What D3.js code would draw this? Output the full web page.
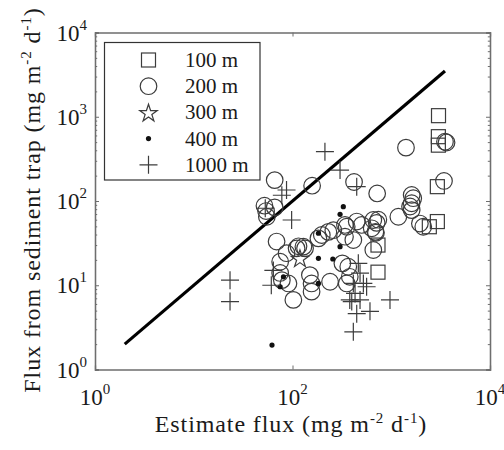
<!DOCTYPE html>
<html>
<head>
<meta charset="utf-8">
<script src="https://cdn.jsdelivr.net/npm/d3@7"></script>
<style>
  body { margin: 0; background: #fff; }
  svg { display: block; }
  text { font-family: "Liberation Serif", "Times New Roman", serif; fill: #1a1a1a; }
</style>
</head>
<body>
<svg id="chart" width="504" height="450"></svg>
<script>
// Estimated flux vs. sediment-trap flux (mg m^-2 d^-1), one array per trap depth: [estimate, trap]
const depth100 = [
  [3010, 1030], [3000, 580], [3000, 460], [2930, 148], [2930, 57], [2430, 49.5],
  [734, 30], [734, 14.3]
];
const depth200 = [
  [1410, 430], [3500, 505], [3630, 495], [3420, 173], [66, 177], [158, 152], [420, 168], [720, 123],
  [52, 88], [54, 76], [55, 65], [66, 84],
  [1610, 118], [1670, 108], [1610, 94], [1550, 86], [1610, 78],
  [1180, 65], [1950, 54], [2110, 49.5],
  [658, 59.5], [712, 55], [634, 47.4], [690, 43], [740, 60], [700, 42], [502, 52], [447, 57],
  [354, 49.5], [340, 52], [340, 37.7], [259, 45], [231, 43], [198, 39.5], [183, 36], [129, 28.7],
  [110, 27.4], [658, 26.2], [413, 34.4],
  [87, 24], [75, 19], [69, 33], [115, 29], [134, 27.4],
  [320, 18.2], [367, 16.6], [380, 12.6], [354, 10.5], [240, 11], [150, 13.2], [156, 10.5], [156, 8.4],
  [75, 14], [78, 11.5], [91, 10.5], [102, 6.7]
];
const depth300 = [[119, 21]];
const depth400 = [
  [327, 85.6], [303, 69.5], [183, 41.4], [303, 28.7], [183, 20.9], [256, 20.5],
  [81, 12.6], [75, 9.6], [183, 10.5], [62, 1.95]
];
const depth1000 = [
  [213, 385], [303, 233], [447, 148], [87, 135], [78, 117], [53, 82], [98, 59.5],
  [23.3, 11.5], [23.3, 6.4], [64, 15], [61, 10],
  [464, 18.2], [483, 13.9], [522, 10.5], [563, 9.6], [430, 8.0], [380, 6.7], [483, 6.7],
  [609, 4.9], [447, 4.6], [413, 2.8], [971, 6.7], [413, 10.5], [398, 6.4]
];
// 1:1 reference line
const oneToOne = [[2, 2], [3500, 3500]];

const legendLabels = ["100 m", "200 m", "300 m", "400 m", "1000 m"];
const xTickValues = [1, 100, 10000];
const xTickExponents = ["0", "2", "4"];
const yTickValues = [1, 10, 100, 1000, 10000];
const yTickExponents = ["0", "1", "2", "3", "4"];

const svg = d3.select("#chart");
const x = d3.scaleLog().domain([1, 1e4]).range([95, 490]);
const y = d3.scaleLog().domain([1, 1e4]).range([369.5, 32.5]);

const ink = "#3c3c3c";
const frame = "#6e6e6e";

// minor ticks for the y axis: 2..9 in each decade
const yMinor = [];
for (let e = 0; e < 4; e++) for (let k = 2; k <= 9; k++) yMinor.push(k * Math.pow(10, e));

const axes = svg.append("g").attr("class", "axes");
// inward major ticks on all four sides
axes.append("g").attr("transform", `translate(0,${y(1)})`)
  .call(d3.axisBottom(x).tickValues(xTickValues).tickSize(-4).tickFormat(""));
axes.append("g").attr("transform", `translate(0,${y(1e4)})`)
  .call(d3.axisTop(x).tickValues(xTickValues).tickSize(-4).tickFormat(""));
axes.append("g").attr("transform", `translate(${x(1)},0)`)
  .call(d3.axisLeft(y).tickValues(yTickValues).tickSize(-4).tickFormat(""));
axes.append("g").attr("transform", `translate(${x(1e4)},0)`)
  .call(d3.axisRight(y).tickValues(yTickValues).tickSize(-4).tickFormat(""));
axes.append("g").attr("transform", `translate(${x(1)},0)`)
  .call(d3.axisLeft(y).tickValues(yMinor).tickSize(-2.2).tickFormat(""));
axes.append("g").attr("transform", `translate(${x(1e4)},0)`)
  .call(d3.axisRight(y).tickValues(yMinor).tickSize(-2.2).tickFormat(""));
axes.selectAll("path.domain").attr("stroke", frame).attr("stroke-width", 1.3);
axes.selectAll(".tick line").attr("stroke", frame).attr("stroke-width", 1);

// tick labels with superscript exponents
const xl = svg.append("g").attr("font-size", 23).attr("text-anchor", "middle");
xTickValues.forEach((v, i) => {
  const t = xl.append("text").attr("x", x(v)).attr("y", 405);
  t.append("tspan").text("10");
  t.append("tspan").attr("font-size", 15).attr("dy", -11).text(xTickExponents[i]);
});
const yl = svg.append("g").attr("font-size", 23).attr("text-anchor", "end");
yTickValues.forEach((v, i) => {
  const t = yl.append("text").attr("x", 87).attr("y", y(v) + 8);
  t.append("tspan").text("10");
  t.append("tspan").attr("font-size", 15).attr("dy", -11).text(yTickExponents[i]);
});

// axis titles
function unitTitle(sel, lead) {
  sel.append("tspan").text(lead + " (mg m");
  sel.append("tspan").attr("font-size", 15).attr("dy", -9).text("-2");
  sel.append("tspan").attr("dy", 9).text(" d");
  sel.append("tspan").attr("font-size", 15).attr("dy", -9).text("-1");
  sel.append("tspan").attr("dy", 9).text(")");
}
svg.append("text").attr("x", 291).attr("y", 432).attr("font-size", 24).attr("letter-spacing", 0.9)
  .attr("text-anchor", "middle").call(unitTitle, "Estimate flux");
svg.append("text").attr("transform", "translate(40,200) rotate(-90)").attr("font-size", 24)
  .attr("letter-spacing", 0.9).attr("text-anchor", "middle").call(unitTitle, "Flux from sediment trap");

// 1:1 line
svg.append("path")
  .datum(oneToOne)
  .attr("d", d3.line().x(d => x(d[0])).y(d => y(d[1])))
  .attr("fill", "none").attr("stroke", "#000").attr("stroke-width", 3.2);

// marker drawers
const marks = svg.append("g").attr("fill", "none").attr("stroke", ink).attr("stroke-width", 1.2);
const shapes = {
  square: (g, cx, cy) => g.append("rect").attr("x", cx - 7).attr("y", cy - 7).attr("width", 14).attr("height", 14),
  circle: (g, cx, cy) => g.append("circle").attr("cx", cx).attr("cy", cy).attr("r", 8.3),
  star: (g, cx, cy) => g.append("path").attr("d", d3.symbol(d3.symbolStar, 95)()).attr("transform", `translate(${cx},${cy + 1})`),
  dot: (g, cx, cy) => g.append("circle").attr("cx", cx).attr("cy", cy).attr("r", 2.6).attr("fill", "#111").attr("stroke", "none"),
  plus: (g, cx, cy) => g.append("path").attr("d", `M${cx - 9},${cy}H${cx + 9}M${cx},${cy - 9}V${cy + 9}`)
};
const series = [
  { data: depth100, shape: "square" },
  { data: depth200, shape: "circle" },
  { data: depth300, shape: "star" },
  { data: depth400, shape: "dot" },
  { data: depth1000, shape: "plus" }
];
series.forEach(s => {
  const g = marks.append("g");
  s.data.forEach(d => shapes[s.shape](g, x(d[0]), y(d[1])));
});

// legend
const leg = svg.append("g");
leg.append("rect").attr("x", 104.5).attr("y", 42.5).attr("width", 155.5).attr("height", 137.5)
  .attr("fill", "#fff").attr("stroke", "#333").attr("stroke-width", 1.2);
const legMarks = leg.append("g").attr("fill", "none").attr("stroke", ink).attr("stroke-width", 1.2);
series.forEach((s, i) => {
  const cy = 60 + i * 26.2;
  shapes[s.shape](legMarks, 148.5, cy);
  leg.append("text").attr("x", 185).attr("y", cy + 7).attr("font-size", 21).text(legendLabels[i]);
});
</script>
</body>
</html>
